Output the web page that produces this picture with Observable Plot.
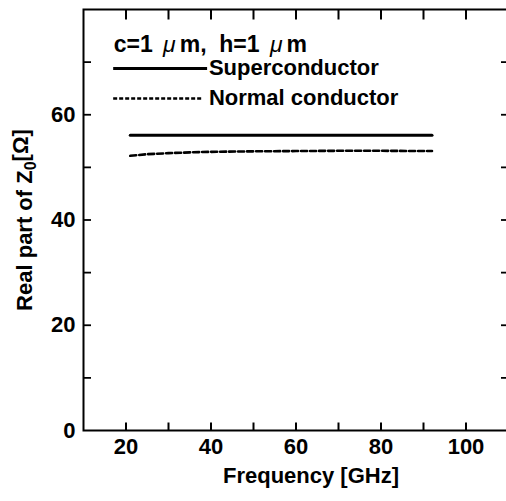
<!DOCTYPE html>
<html><head><meta charset="utf-8">
<script src="https://cdn.jsdelivr.net/npm/d3@7"></script>
<script src="https://cdn.jsdelivr.net/npm/@observablehq/plot@0.6"></script>
<style>
html,body{margin:0;padding:0;background:#fff;overflow:hidden;}
</style>
</head><body><div id="chart"></div>
<script>
// ---- data ----
const freqSuper = [21, 92];
const zSuper = [56.1, 56.1];
const freqNormal = [21, 25, 30, 35, 40, 50, 60, 70, 80, 92];
const zNormal = [52.2, 52.5, 52.7, 52.85, 52.95, 53.05, 53.1, 53.15, 53.15, 53.1];
const xTickLabels = [20, 40, 60, 80, 100];
const xTickMarks = [20, 30, 40, 50, 60, 70, 80, 90, 100];
const yTickLabels = [0, 20, 40, 60];
const yTickMarks = [10, 20, 30, 40, 50, 60, 70];
const seriesNames = ["Superconductor", "Normal conductor"];
const conditionText = "c=1 μm,  h=1 μm";
const xLabel = "Frequency [GHz]";
const yLabel = "Real part of Z0[Ω]";
// legend placement (data units, inside the frame)
const legendX = [17.1, 39.2];
const legendY = [68.8, 63.1];
const legendTextX = 39.5;
const conditionY = 73.4;

const superData = freqSuper.map((f, i) => ({f, z: zSuper[i]}));
const normalData = freqNormal.map((f, i) => ({f, z: zNormal[i]}));
const legendRows = seriesNames.map((name, i) => ({name, y: legendY[i], dash: i === 1}));

const FONT = "'Liberation Sans', Arial, sans-serif";
const none = () => "";
const W = 506, H = 501, MT = 9, MB = 71;
const frameH = H - MT - MB;
const Y0 = 0, Y1 = 80;
const pxPerY = frameH / (Y1 - Y0);
// tick segments (length converted from pixels to data units)
const bottomTicks = xTickMarks.map(x => ({x, a: Y0, b: Y0 + 8 / pxPerY}));
const topTicks = xTickMarks.map(x => ({x, a: Y1, b: Y1 - 10 / pxPerY}));

const chart = Plot.plot({
  width: W,
  height: H,
  marginLeft: 83,
  marginRight: -2,
  marginTop: MT,
  marginBottom: MB,
  style: {fontFamily: FONT, fontWeight: "bold", color: "#000", background: "#fff", overflow: "visible"},
  x: {domain: [10, 110]},
  y: {domain: [Y0, Y1]},
  marks: [
    Plot.frame({strokeWidth: 2}),
    // tick labels
    Plot.axisX(xTickLabels, {anchor: "bottom", tickSize: 0, tickPadding: 8, label: null, fontSize: 22}),
    Plot.axisY(yTickLabels, {anchor: "left", tickSize: 0, tickPadding: 8, label: null, fontSize: 22}),
    // axis titles
    Plot.text([xLabel], {frameAnchor: "bottom", textAnchor: "middle", dx: 15, dy: 52, fontSize: 22, letterSpacing: 1.8, fill: "#000"}),
    Plot.text([yLabel], {frameAnchor: "left", textAnchor: "middle", dx: -59, rotate: -90, fontSize: 22, letterSpacing: 0.5, fill: "#000"}),
    // data
    Plot.line(superData, {x: "f", y: "z", stroke: "#000", strokeWidth: 3}),
    Plot.line(normalData, {x: "f", y: "z", stroke: "#000", strokeWidth: 2.6, strokeDasharray: "6,3"}),
    // legend
    Plot.text([conditionText], {x: legendX[0], y: conditionY, textAnchor: "start", fontSize: 23, letterSpacing: 1.2, fill: "#000"}),
    Plot.ruleY(legendRows.filter(d => !d.dash), {y: "y", x1: legendX[0], x2: legendX[1], stroke: "#000", strokeWidth: 3}),
    Plot.ruleY(legendRows.filter(d => d.dash), {y: "y", x1: legendX[0], x2: legendX[1] - 1.2, stroke: "#000", strokeWidth: 2.4, strokeDasharray: "4,2"}),
    Plot.text(legendRows, {x: legendTextX, y: "y", text: "name", textAnchor: "start", fontSize: 22, letterSpacing: 1.6, fill: "#000"}),
    // inward tick marks
    Plot.link(bottomTicks, {x1: "x", x2: "x", y1: "a", y2: "b", stroke: "#000", strokeWidth: 2}),
    Plot.link(topTicks, {x1: "x", x2: "x", y1: "a", y2: "b", stroke: "#000", strokeWidth: 2}),
    Plot.axisY(yTickMarks, {anchor: "left", tickSize: 8, dx: 8, tickFormat: none, label: null, strokeWidth: 1.8}),
    Plot.axisY(yTickMarks, {anchor: "right", tickSize: 8, dx: -8, tickFormat: none, label: null, strokeWidth: 1.8})
  ]
});

// subscript and italic mu as real text tspans
d3.select(chart).selectAll("text").each(function() {
  const t = this.textContent;
  if (t === yLabel) {
    const sel = d3.select(this);
    const tsp = sel.select("tspan").empty() ? sel : sel.select("tspan");
    tsp.text(null);
    tsp.append("tspan").text("Real part of Z");
    tsp.append("tspan").attr("dy", "0.3em").attr("font-size", "16").text("0");
    tsp.append("tspan").attr("dy", "-0.4em").text("[Ω]");
  } else if (t === conditionText) {
    const sel = d3.select(this);
    const tsp = sel.select("tspan").empty() ? sel : sel.select("tspan");
    tsp.text(null);
    const parts = conditionText.split("μ");
    parts.forEach((p, i) => {
      const s = tsp.append("tspan").text(p);
      if (i > 0) s.attr("dx", 4);
      if (i < parts.length - 1) tsp.append("tspan").attr("dx", 4).attr("font-style", "italic").attr("font-weight", "normal").text("μ");
    });
  }
});

document.getElementById("chart").appendChild(chart);
</script>
</body></html>
